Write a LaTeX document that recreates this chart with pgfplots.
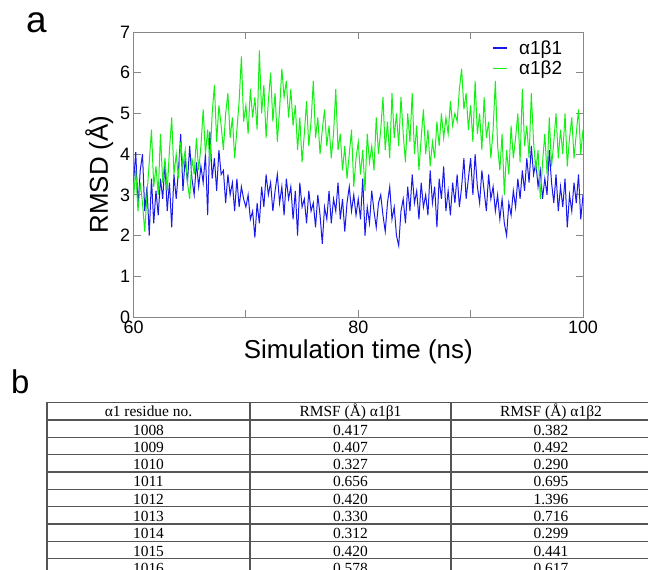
\documentclass[border=0pt]{standalone}
\usepackage{fontspec}
\setmainfont{Liberation Sans}
\newfontfamily\tabfont{Liberation Serif}
\usepackage{pgfplots}
\usepackage{pgfplotstable}
\pgfplotsset{compat=1.18}

\definecolor{rmsdblue}{RGB}{25,25,235}
\definecolor{rmsdgreen}{RGB}{20,240,20}
\definecolor{framegray}{RGB}{135,135,135}
\definecolor{rulegray}{RGB}{85,85,85}

% RMSD traces, 60-100 ns
\pgfplotstableread{
t ab1 ab2
60.0 3.3 2.9
60.2 4.05 3.6
60.4 2.7 2.6
60.6 3.6 3.3
60.8 4.0 2.8
61.0 2.6 2.1
61.2 3.2 3.0
61.4 2.0 3.8
61.6 3.4 4.6
61.8 2.3 3.2
62.0 3.1 3.7
62.2 2.5 3.0
62.4 3.4 4.5
62.6 2.9 3.3
62.8 3.8 3.9
63.0 2.6 3.1
63.2 3.3 4.1
63.4 2.2 4.9
63.6 3.5 3.5
63.8 2.9 4.0
64.0 3.6 3.4
64.2 4.5 4.3
64.4 3.1 3.7
64.6 3.9 4.1
64.8 3.3 3.3
65.0 4.2 2.9
65.2 3.4 3.9
65.4 3.0 3.5
65.6 3.8 4.4
65.8 3.2 3.6
66.0 3.7 4.2
66.2 3.3 5.1
66.4 4.0 4.0
66.6 2.5 4.6
66.8 4.55 3.8
67.0 3.4 5.0
67.2 3.9 5.7
67.4 3.1 4.3
67.6 4.1 5.2
67.8 3.5 4.7
68.0 3.6 4.1
68.2 2.8 5.0
68.4 3.5 5.5
68.6 3.0 4.4
68.8 3.3 4.9
69.0 2.6 3.9
69.2 3.4 4.6
69.4 2.7 5.3
69.6 3.2 6.4
69.8 2.9 4.8
70.0 2.7 5.2
70.2 3.0 4.5
70.4 2.4 5.6
70.6 2.6 4.9
70.8 1.95 5.4
71.0 2.8 4.6
71.2 2.3 6.55
71.4 3.2 5.0
71.6 2.7 5.7
71.8 3.5 4.4
72.0 3.0 5.3
72.2 3.3 6.0
72.4 2.6 4.8
72.6 3.1 5.5
72.8 3.5 4.3
73.0 2.8 5.1
73.2 3.2 6.1
73.4 2.5 5.4
73.6 3.4 5.8
73.8 2.9 4.9
74.0 3.2 5.6
74.2 2.4 4.7
74.4 3.1 5.2
74.6 2.0 4.1
74.8 3.3 4.9
75.0 2.7 3.8
75.2 2.9 4.5
75.4 2.3 5.3
75.6 3.1 4.2
75.8 2.6 4.8
76.0 2.8 5.8
76.2 2.2 4.4
76.4 3.0 4.9
76.6 2.5 4.0
76.8 1.8 4.6
77.0 2.7 5.1
77.2 2.4 4.2
77.4 3.1 4.7
77.6 2.3 3.9
77.8 2.9 4.5
78.0 2.6 5.6
78.2 3.3 4.1
78.4 2.4 4.5
78.6 2.9 3.6
78.8 2.1 4.2
79.0 2.8 3.4
79.2 3.2 4.0
79.4 2.6 4.6
79.6 3.0 3.2
79.8 2.5 3.9
80.0 2.9 4.3
80.2 2.4 3.5
80.4 3.4 4.1
80.6 2.0 3.1
80.8 2.7 4.5
81.0 2.3 3.8
81.2 3.1 4.2
81.4 2.6 3.6
81.6 2.2 4.9
81.8 2.8 4.0
82.0 3.0 4.6
82.2 2.5 5.4
82.4 2.1 4.1
82.6 2.8 4.8
82.8 3.2 3.9
83.0 2.4 5.5
83.2 2.7 4.4
83.4 2.0 5.0
83.6 1.75 4.2
83.8 2.6 5.4
84.0 2.9 4.5
84.2 2.3 3.8
84.4 3.2 5.0
84.6 2.6 4.3
84.8 3.5 5.5
85.0 2.8 4.0
85.2 3.1 4.7
85.4 2.4 3.6
85.6 3.3 4.4
85.8 2.7 5.1
86.0 3.0 4.0
86.2 2.5 4.6
86.4 3.6 3.7
86.6 2.8 4.3
86.8 3.2 3.9
87.0 2.2 4.8
87.2 3.4 4.2
87.4 2.9 5.0
87.6 3.7 4.4
87.8 2.6 4.9
88.0 3.1 4.5
88.2 2.5 5.3
88.4 3.3 4.7
88.6 2.8 5.0
88.8 3.5 4.8
89.0 2.7 5.6
89.2 3.2 6.1
89.4 3.9 5.1
89.6 2.9 5.5
89.8 3.4 4.6
90.0 3.9 5.2
90.2 3.0 4.3
90.4 4.0 5.8
90.6 3.2 4.5
90.8 2.8 5.0
91.0 3.6 4.1
91.2 3.1 5.4
91.4 2.6 4.4
91.6 3.5 4.8
91.8 2.9 3.9
92.0 3.2 4.6
92.2 2.6 5.8
92.4 3.0 4.2
92.6 2.4 3.6
92.8 2.9 4.5
93.0 2.3 3.0
93.2 2.0 4.1
93.4 2.8 3.5
93.6 2.5 4.7
93.8 3.1 3.9
94.0 2.7 4.4
94.2 3.4 5.0
94.4 2.9 3.8
94.6 3.6 5.6
94.8 3.1 4.2
95.0 3.9 4.7
95.2 3.3 3.9
95.4 4.2 5.5
95.6 3.5 4.3
95.8 3.8 3.6
96.0 3.2 4.1
96.2 3.6 2.9
96.4 2.9 3.8
96.6 3.4 4.5
96.8 3.0 3.5
97.0 4.1 4.9
97.2 3.3 3.7
97.4 2.8 4.3
97.6 3.5 5.0
97.8 2.6 3.9
98.0 3.2 4.6
98.2 2.7 4.0
98.4 3.4 5.0
98.6 2.2 3.7
98.8 3.0 4.4
99.0 2.6 4.9
99.2 3.3 3.9
99.4 2.8 4.5
99.6 3.5 5.1
99.8 2.4 4.0
100.0 3.0 4.6
}\rmsd

\begin{document}
\begin{tikzpicture}[x=1bp,y=-1bp]
\useasboundingbox (0,0) rectangle (648,570);

% panel labels
\node[anchor=base west, inner sep=0, font=\fontsize{37}{40}\selectfont] at (26,33) {a};
\node[anchor=base west, inner sep=0, font=\fontsize{33}{36}\selectfont] at (11,393) {b};

\begin{axis}[
    at={(133.5bp,-317bp)}, anchor=south west,
    width=449.5bp, height=285bp, scale only axis,
    xmin=60, xmax=100, ymin=0, ymax=7,
    xtick={60,70,80,90,100}, xticklabels={60,,80,,100},
    ytick={0,1,2,3,4,5,6,7},
    tick align=inside, major tick length=7bp,
    axis line style={framegray, line width=1bp},
    every tick/.style={framegray, line width=1bp},
    tick label style={font=\fontsize{18}{20}\selectfont, text=black},
    /pgf/number format/assume math mode=true,
    xlabel={Simulation time (ns)}, ylabel={RMSD (Å)},
    label style={font=\fontsize{26}{30}\selectfont},
    legend style={draw=none, fill=none, at={(0.965,0.985)}, anchor=north east,
        font=\fontsize{19}{21}\selectfont, row sep=1bp,
        /tikz/every odd column/.append style={column sep=9bp}},
    legend cell align=left,
    legend image code/.code={\draw[#1, line width=1.5bp] (0bp,0bp) -- (14bp,0bp);},
    no markers,
]
\addplot[rmsdblue, line width=1bp] table[x=t, y=ab1] {\rmsd};
\addlegendentry{α1β1}
\addplot[rmsdgreen, line width=1bp] table[x=t, y=ab2] {\rmsd};
\addlegendentry{α1β2}
\end{axis}

% table b (cut off at the bottom and right edge)
\begin{scope}[rulegray, line width=1.1bp]
\foreach \y in {402.3,420,437.3,454.7,472,489.3,506.7,524,541.3,558.7}
    \draw (47,\y) -- (652,\y);
\foreach \x in {47,250,451}
    \draw (\x,402.3) -- (\x,575);
\end{scope}
\begin{scope}[every node/.style={anchor=base, inner sep=0, font=\tabfont\fontsize{15.5}{17}\selectfont}]
\node at (148.5,416.5) {α1 residue no.};
\node at (350.5,416.5) {RMSF (Å) α1β1};
\node at (551,416.5) {RMSF (Å) α1β2};
\foreach \i/\r/\u/\v in {0/1008/0.417/0.382, 1/1009/0.407/0.492, 2/1010/0.327/0.290,
    3/1011/0.656/0.695, 4/1012/0.420/1.396, 5/1013/0.330/0.716, 6/1014/0.312/0.299,
    7/1015/0.420/0.441, 8/1016/0.578/0.617} {
    \node at (148.5,{435+17.33*\i}) {\r};
    \node at (350.5,{435+17.33*\i}) {\u};
    \node at (551,{435+17.33*\i}) {\v};
}
\end{scope}
\end{tikzpicture}
\end{document}
